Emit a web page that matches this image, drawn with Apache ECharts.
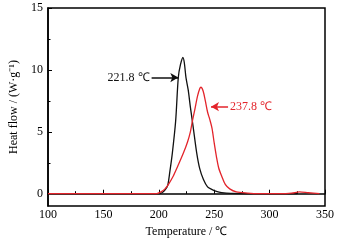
<!DOCTYPE html>
<html><head><meta charset="utf-8">
<script src="https://cdn.jsdelivr.net/npm/echarts@6/dist/echarts.min.js"></script>
<style>html,body{margin:0;padding:0;background:#fff}#c{width:341px;height:243px}</style>
</head><body><div id="c"></div>
<script>
var xTicks = [100, 150, 200, 250, 300, 350];
var yTicks = [0, 5, 10, 15];
var yMinorTicks = [2.5, 7.5, 12.5];
var blackT = [100, 150, 195, 201, 204, 206, 208, 210, 212.2, 215.2, 217.6, 219.5, 221.8, 223, 224.5, 226.5, 228.5, 231, 234.2, 237, 240.2, 244, 247.7, 252, 256.7, 265, 300, 325];
var blackV = [0, 0, 0, 0, 0.15, 0.35, 0.65, 1.8, 3.26, 5.86, 9.4, 10.4, 11.0, 10.6, 9.4, 8.4, 7.0, 5.4, 3.3, 2.0, 1.17, 0.55, 0.35, 0.18, 0.08, 0.02, 0, 0];
var redT = [100, 150, 198, 202, 205.6, 209, 213.1, 217, 222.1, 226, 228.5, 230.3, 232.5, 235, 237, 238, 240, 242, 244, 246, 248, 250, 252, 254, 256.7, 260, 264, 270, 280, 290, 310, 320, 327, 335, 345];
var redV = [0, 0, 0, 0.15, 0.39, 0.8, 1.43, 2.2, 3.26, 4.2, 5.0, 5.86, 6.8, 7.9, 8.5, 8.6, 8.3, 7.5, 6.6, 6.0, 5.3, 4.1, 3.0, 2.1, 1.43, 0.75, 0.39, 0.15, 0.05, 0, 0, 0.05, 0.15, 0.08, 0];
var blackPeakLabel = '221.8 ℃';
var redPeakLabel = '237.8 ℃';
var blackArrow = [[193.5, 9.38], [217.6, 9.38]];
var redArrow = [[262.5, 7.03], [247.1, 7.03]];

function zip(a, b) { return a.map(function (v, i) { return [v, b[i]]; }); }
var FONT = '"Liberation Serif","Times New Roman",serif';
var RED = '#e3242b';
var chart = echarts.init(document.getElementById('c'), null, {renderer: 'canvas'});
chart.setOption({
  animation: false,
  backgroundColor: '#fff',
  grid: {left: 48, right: 16, top: 8, bottom: 30, show: true, borderColor: '#000', borderWidth: 1.5, backgroundColor: 'transparent'},
  xAxis: {
    type: 'value', min: 100, max: 350, interval: 50,
    name: 'Temperature / ℃', nameLocation: 'middle', nameGap: 15,
    nameTextStyle: {fontFamily: FONT, fontSize: 12, color: '#000'},
    axisLine: {lineStyle: {color: '#000', width: 1.5}},
    axisTick: {inside: true, length: 4, lineStyle: {color: '#000'}},
    minorTick: {show: true, splitNumber: 2, length: 2.5, lineStyle: {color: '#000'}},
    splitLine: {show: false},
    axisLabel: {fontFamily: FONT, fontSize: 12, color: '#000', margin: 3, customValues: xTicks}
  },
  yAxis: [{
    type: 'value', min: -1, max: 15,
    name: 'Heat flow / (W·g⁻¹)', nameLocation: 'middle', nameGap: 22,
    nameTextStyle: {fontFamily: FONT, fontSize: 12, color: '#000'},
    axisLine: {lineStyle: {color: '#000', width: 1.5}},
    axisTick: {inside: true, length: 4, customValues: yTicks, lineStyle: {color: '#000'}},
    minorTick: {show: false},
    splitLine: {show: false},
    axisLabel: {fontFamily: FONT, fontSize: 12, color: '#000', margin: 5, customValues: yTicks}
  }, {
    type: 'value', min: -1, max: 15, position: 'left',
    axisLine: {show: false},
    axisTick: {show: true, inside: true, length: 2.5, customValues: yMinorTicks, lineStyle: {color: '#000'}},
    axisLabel: {show: false, customValues: yMinorTicks},
    splitLine: {show: false}
  }],
  series: [
    {
      type: 'line', data: zip(blackT, blackV), showSymbol: false, smooth: 0.3,
      lineStyle: {color: '#111', width: 1.3}, z: 2,
      markLine: {
        silent: true, symbol: ['none', 'arrow'], symbolSize: [7, 8],
        lineStyle: {color: '#111', width: 1.5, type: 'solid'},
        label: {show: true, position: 'start', distance: 2, formatter: blackPeakLabel, fontFamily: FONT, fontSize: 12, color: '#111'},
        data: [[{coord: blackArrow[0]}, {coord: blackArrow[1]}]]
      }
    },
    {
      type: 'line', data: zip(redT, redV), showSymbol: false, smooth: 0.3,
      lineStyle: {color: RED, width: 1.3}, z: 3,
      markLine: {
        silent: true, symbol: ['none', 'arrow'], symbolSize: [7, 8],
        lineStyle: {color: RED, width: 1.5, type: 'solid'},
        label: {show: true, position: 'start', distance: 2, formatter: redPeakLabel, fontFamily: FONT, fontSize: 12, color: RED},
        data: [[{coord: redArrow[0]}, {coord: redArrow[1]}]]
      }
    }
  ]
});
</script></body></html>
